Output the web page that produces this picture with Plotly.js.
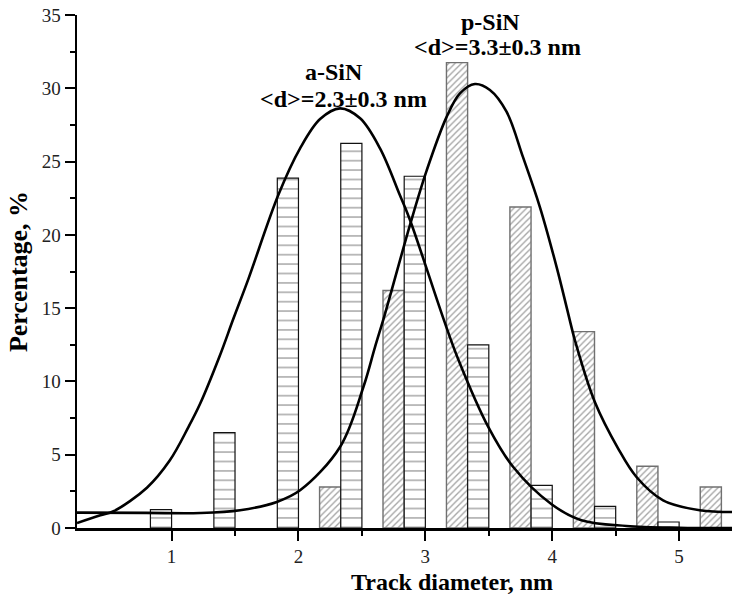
<!DOCTYPE html>
<html>
<head>
<meta charset="utf-8">
<script src="https://cdn.plot.ly/plotly-3.0.1.min.js"></script>
<style>html,body{margin:0;padding:0;background:#fff;}#chart{width:732px;height:595px;}</style>
</head>
<body>
<div id="chart"></div>
<script>
// a-SiN histogram (horizontal stripes)
const aSiN_x = [0.917, 1.417, 1.917, 2.417, 2.917, 3.417, 3.917, 4.417, 4.917];
const aSiN_pct = [1.26, 6.51, 23.87, 26.24, 24.0, 12.5, 2.91, 1.48, 0.41];
// p-SiN histogram (diagonal hatch)
const pSiN_x = [2.25, 2.75, 3.25, 3.75, 4.25, 4.75, 5.25];
const pSiN_pct = [2.8, 16.2, 31.75, 21.9, 13.4, 4.21, 2.8];
// fitted curves
const aFit_x = [0.255, 0.439, 0.543, 0.806, 0.987, 1.134, 1.226, 1.378, 1.488, 1.606, 1.843, 2.013, 2.171, 2.328, 2.486, 2.643, 2.80, 2.88, 3.142, 3.26, 3.496, 3.693, 3.995, 4.23, 4.585, 5.0, 5.417];
const aFit_y = [0.34, 0.87, 1.14, 2.75, 4.62, 6.9, 8.49, 11.7, 14.29, 17.0, 22.75, 25.9, 27.9, 28.63, 27.95, 25.9, 22.7, 21.0, 14.3, 11.5, 6.9, 4.16, 1.62, 0.53, 0.14, 0.02, 0.0];
const pFit_x = [0.255, 0.8, 1.226, 1.54, 1.83, 2.013, 2.328, 2.512, 2.604, 2.683, 2.88, 3.011, 3.168, 3.273, 3.391, 3.509, 3.64, 3.77, 3.903, 4.035, 4.126, 4.179, 4.336, 4.52, 4.664, 4.874, 5.163, 5.417];
const pFit_y = [1.05, 1.03, 1.02, 1.21, 1.78, 2.57, 5.53, 9.62, 12.36, 14.63, 20.7, 24.4, 28.05, 29.65, 30.29, 29.88, 28.4, 25.3, 21.9, 17.8, 14.63, 12.81, 8.6, 5.42, 3.48, 1.89, 1.21, 1.09];
const xTickVals = [1, 2, 3, 4, 5];
const xMinorVals = [1.5, 2.5, 3.5, 4.5];
const labels = {
  aName: 'a-SiN', aMean: '&lt;d&gt;=2.3±0.3 nm',
  pName: 'p-SiN', pMean: '&lt;d&gt;=3.3±0.3 nm',
  xTitle: 'Track diameter, nm', yTitle: 'Percentage, %'
};

const serif = 'Liberation Serif, Times New Roman, serif';
const barW = 0.1667;

const traces = [
  {
    type: 'bar', x: pSiN_x, y: pSiN_pct, width: barW, name: labels.pName,
    marker: {
      color: '#ffffff',
      line: {color: '#707070', width: 1.4},
      pattern: {shape: '/', size: 4.5, solidity: 0.3, fgcolor: '#4a4a4a', bgcolor: '#ffffff', fillmode: 'overlay'}
    },
    showlegend: false, hoverinfo: 'x+y'
  },
  {
    type: 'bar', x: aSiN_x, y: aSiN_pct, width: barW, name: labels.aName,
    marker: {
      color: '#ffffff',
      line: {color: '#111111', width: 1.2},
      pattern: {shape: '-', size: 9.4, solidity: 0.12, fgcolor: '#111111', bgcolor: '#ffffff', fillmode: 'overlay'}
    },
    showlegend: false, hoverinfo: 'x+y'
  },
  {
    type: 'scatter', mode: 'lines', x: aFit_x, y: aFit_y,
    line: {color: '#000', width: 2.6, shape: 'spline', smoothing: 1},
    showlegend: false, hoverinfo: 'skip'
  },
  {
    type: 'scatter', mode: 'lines', x: pFit_x, y: pFit_y,
    line: {color: '#000', width: 2.6, shape: 'spline', smoothing: 1},
    showlegend: false, hoverinfo: 'skip'
  }
];

const annFont = {family: serif, size: 24, color: '#000'};
const layout = {
  width: 732, height: 595,
  margin: {l: 77, r: 0, t: 15, b: 67, pad: 0},
  paper_bgcolor: '#fff', plot_bgcolor: '#fff',
  barmode: 'overlay', bargap: 0,
  font: {family: serif, color: '#000'},
  xaxis: {
    range: [0.255, 5.417], tickmode: 'array', tickvals: xTickVals,
    ticks: 'outside', ticklen: 10, tickwidth: 2, tickcolor: '#000',
    minor: {tickmode: 'array', tickvals: xMinorVals, ticks: 'outside', ticklen: 5, tickwidth: 2, tickcolor: '#000', showgrid: false},
    showline: true, linecolor: '#000', linewidth: 2.5, showgrid: false, zeroline: false,
    tickfont: {family: serif, size: 19, color: '#222'},
    fixedrange: true
  },
  yaxis: {
    range: [0, 35], dtick: 5, tick0: 0,
    ticks: 'outside', ticklen: 10, tickwidth: 2, tickcolor: '#000',
    minor: {dtick: 2.5, ticks: 'outside', ticklen: 5, tickwidth: 2, tickcolor: '#000', showgrid: false},
    showline: true, linecolor: '#000', linewidth: 2.5, showgrid: false, zeroline: false,
    tickfont: {family: serif, size: 19, color: '#222'},
    title: {text: '<b>' + labels.yTitle + '</b>', font: {family: serif, size: 26, color: '#000'}, standoff: 7},
    fixedrange: true
  },
  annotations: [
    {x: 0.572, y: -0.106, xref: 'paper', yref: 'paper', text: '<b>' + labels.xTitle + '</b>', showarrow: false, font: {family: serif, size: 24, color: '#000'}, xanchor: 'center', yanchor: 'middle'},
    {x: 2.28, y: 31.1, xref: 'x', yref: 'y', text: '<b>' + labels.aName + '</b>', showarrow: false, font: annFont, xanchor: 'center', yanchor: 'middle'},
    {x: 2.352, y: 29.3, xref: 'x', yref: 'y', text: '<b>' + labels.aMean + '</b>', showarrow: false, font: annFont, xanchor: 'center', yanchor: 'middle'},
    {x: 3.51, y: 34.5, xref: 'x', yref: 'y', text: '<b>' + labels.pName + '</b>', showarrow: false, font: annFont, xanchor: 'center', yanchor: 'middle'},
    {x: 3.569, y: 32.8, xref: 'x', yref: 'y', text: '<b>' + labels.pMean + '</b>', showarrow: false, font: annFont, xanchor: 'center', yanchor: 'middle'}
  ]
};

Plotly.newPlot('chart', traces, layout, {displayModeBar: false, staticPlot: true});
</script>
</body>
</html>
